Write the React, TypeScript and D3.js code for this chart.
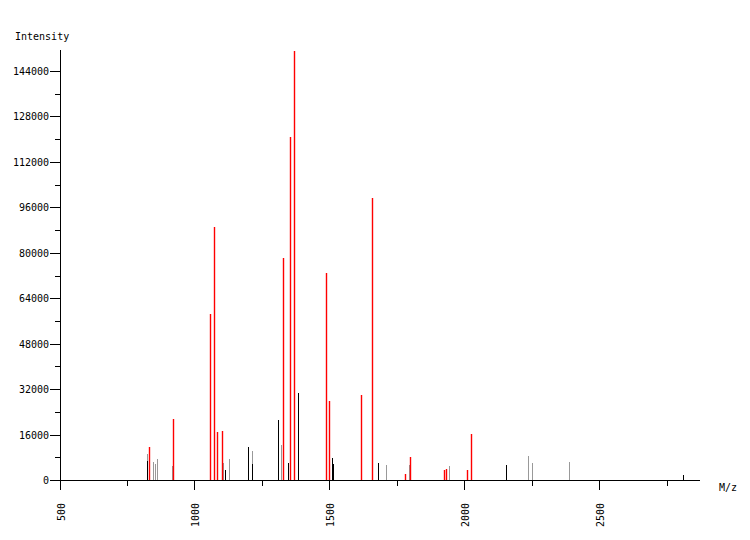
import React from "react";
import * as d3 from "d3";

const redMz = [830.7, 919.6, 1056.7, 1071.5, 1082.6, 1101.1, 1327, 1353, 1367.8, 1486.3, 1497.4, 1615.9, 1656.7, 1778.9, 1797.4, 1923.3, 1930.7, 2008.5, 2023.3];
const redInt = [11600, 21480, 58450, 89100, 17000, 17250, 78170, 120770, 151050, 72900, 27800, 29900, 99300, 2110, 8100, 3520, 3870, 3520, 16200];

const blackMz = [823.3, 1112.2, 1197.4, 1212.2, 1308.5, 1345.5, 1382.6, 1508.5, 1512.2, 1678.9, 2153, 2808.5];
const blackInt = [6700, 3520, 11600, 5630, 21100, 6000, 30600, 7750, 5630, 6000, 5280, 1760];

const grayMz = [823.3, 845.6, 853, 860.4, 915.9, 1104.8, 1127, 1212.2, 1319.6, 1708.5, 1793.7, 1941.9, 2234.4, 2249.3, 2386.3];
const grayInt = [9150, 6340, 5630, 7400, 4930, 6000, 7400, 10200, 12300, 5280, 5280, 4930, 8450, 6100, 6340];

const xMajor = [500, 1000, 1500, 2000, 2500];
const xMinor = [750, 1250, 1750, 2250, 2750];
const yMajor = [0, 16000, 32000, 48000, 64000, 80000, 96000, 112000, 128000, 144000];
const yMinor = [8000, 24000, 40000, 56000, 72000, 88000, 104000, 120000, 136000];

const FONT = "'DejaVu Sans Mono', 'Liberation Mono', monospace";

export default function App() {
  const x = d3.scaleLinear().domain([500, 2870.4]).range([60, 700]);
  const y = d3.scaleLinear().domain([0, 151400]).range([480, 50]);
  const px = (v: number) => Math.floor(x(v)) + 0.5;

  const series = [
    { mz: grayMz, it: grayInt, color: "#999999" },
    { mz: blackMz, it: blackInt, color: "#000000" },
    { mz: redMz, it: redInt, color: "#ff0000" },
  ];

  return (
    <svg width={750} height={540} style={{ position: "absolute", left: 0, top: 0, background: "#fff" }}>
      <rect width={750} height={540} fill="#fff" />
      {series.map((s, si) =>
        s.mz.map((m, i) => (
          <line key={`${si}-${i}`} x1={px(m)} x2={px(m)} y1={480} y2={Math.round(y(s.it[i]))} stroke={s.color} strokeWidth={s.color === "#ff0000" ? 1.4 : 1} />
        ))
      )}
      {/* axes */}
      <line x1={60.5} x2={60.5} y1={50} y2={480} stroke="#000" />
      <line x1={50} x2={700} y1={480.5} y2={480.5} stroke="#000" />
      {yMajor.map((v) => (
        <g key={`ym${v}`}>
          <line x1={50} x2={60} y1={Math.round(y(v)) + 0.5} y2={Math.round(y(v)) + 0.5} stroke="#000" />
          <text x={49} y={Math.round(y(v)) + 4} textAnchor="end" fontFamily={FONT} fontSize={10} fill="#000">{v}</text>
        </g>
      ))}
      {yMinor.map((v) => (
        <line key={`yn${v}`} x1={55} x2={60} y1={Math.round(y(v)) + 0.5} y2={Math.round(y(v)) + 0.5} stroke="#000" />
      ))}
      {xMajor.map((v) => (
        <g key={`xm${v}`}>
          <line x1={px(v)} x2={px(v)} y1={480} y2={490} stroke="#000" />
          <text transform={`translate(${px(v) + 4},503) rotate(-90)`} textAnchor="end" fontFamily={FONT} fontSize={10} fill="#000">{v}</text>
        </g>
      ))}
      {xMinor.map((v) => (
        <line key={`xn${v}`} x1={px(v)} x2={px(v)} y1={480} y2={486} stroke="#000" />
      ))}
      <text x={15} y={40} fontFamily={FONT} fontSize={10} fill="#000">Intensity</text>
      <text x={719} y={491} fontFamily={FONT} fontSize={10} fill="#000">M/z</text>
    </svg>
  );
}
